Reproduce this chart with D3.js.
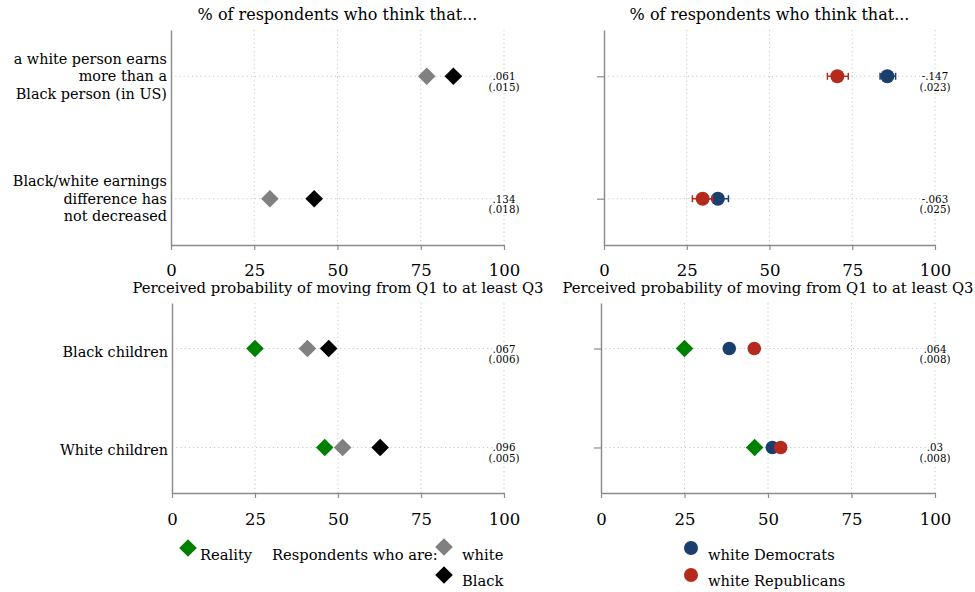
<!DOCTYPE html>
<html>
<head>
<meta charset="utf-8">
<script src="https://cdn.jsdelivr.net/npm/d3@7"></script>
<style>
  body { margin: 0; background: #fff; }
  svg text { font-family: "DejaVu Serif", serif; fill: #000; }
</style>
</head>
<body>
<svg id="chart" width="975" height="592"></svg>
<script>
// ---- data ----
const xTicks = [0, 25, 50, 75, 100];

const topTitle = "% of respondents who think that...";
const topCats = [
  ["a white person earns", "more than a", "Black person (in US)"],
  ["Black/white earnings", "difference has", "not decreased"]
];
const topWhite = [76.8, 29.7];
const topBlack = [84.8, 43.0];
const topNotesL = [[".061", "(.015)"], [".134", "(.018)"]];

const topDem = [85.6, 34.4];
const topDemLo = [83.4, 31.3];
const topDemHi = [88.1, 37.6];
const topRep = [70.5, 29.8];
const topRepLo = [67.5, 26.7];
const topRepHi = [73.8, 32.8];
const topNotesR = [["-.147", "(.023)"], ["-.063", "(.025)"]];

const botTitle = "Perceived probability of moving from Q1 to at least Q3";
const botCats = [["Black children"], ["White children"]];
const botReality = [25.0, 46.0];
const botWhite = [40.8, 51.4];
const botBlack = [47.2, 62.7];
const botNotesL = [[".067", "(.006)"], [".096", "(.005)"]];

const botDem = [38.4, 51.3];
const botDemLo = [37.7, 50.6];
const botDemHi = [39.1, 52.0];
const botRep = [45.9, 53.8];
const botRepLo = [45.2, 52.6];
const botRepHi = [46.6, 55.0];
const botNotesR = [[".064", "(.008)"], [".03", "(.008)"]];

const colors = { green: "#008000", gray: "#808080", black: "#000000", dem: "#1a3f6c", rep: "#b52a1c" };

const svg = d3.select("#chart");

// diamond path centred on (cx, cy)
const diamond = (cx, cy, r) => `M${cx},${cy - r}L${cx + r},${cy}L${cx},${cy + r}L${cx - r},${cy}Z`;

function drawPanel(o) {
  const g = svg.append("g");
  const x = d3.scaleLinear().domain([0, 100]).range([o.x0, o.x1]);
  const y = d3.scalePoint().domain(d3.range(o.cats.length)).range([o.y0, o.y1]).padding(o.pad);

  // dotted grid
  g.selectAll(".vgrid").data(xTicks.slice(1)).join("line")
    .attr("x1", d => x(d)).attr("x2", d => x(d))
    .attr("y1", o.y0).attr("y2", o.y1)
    .attr("stroke", "#c8c8c8").attr("stroke-width", 1).attr("stroke-dasharray", "1.2,3");
  g.selectAll(".hgrid").data(d3.range(o.cats.length)).join("line")
    .attr("x1", o.x0).attr("x2", x(100))
    .attr("y1", d => y(d)).attr("y2", d => y(d))
    .attr("stroke", "#c8c8c8").attr("stroke-width", 1).attr("stroke-dasharray", "1.2,3");

  // x axis
  const ax = g.append("g").attr("transform", `translate(0,${o.y1})`)
    .call(d3.axisBottom(x).tickValues(xTicks).tickSize(5).tickSizeOuter(0));
  ax.attr("font-family", null);
  ax.select(".domain").attr("stroke", "#8c8c8c").attr("stroke-width", 1.5);
  ax.selectAll(".tick line").attr("stroke", "#8c8c8c").attr("stroke-width", 1.2);
  ax.selectAll(".tick text").attr("dy", null).attr("y", o.tickY)
    .style("font-size", "16.5px").attr("fill", "#000");

  // y axis
  const ay = g.append("g").attr("transform", `translate(${o.x0},0)`)
    .call(d3.axisLeft(y).tickSize(o.labels ? 0 : 7).tickSizeOuter(0).tickFormat(""));
  ay.select(".domain").attr("stroke", "#8c8c8c").attr("stroke-width", 1.5);
  ay.selectAll(".tick line").attr("stroke", "#8c8c8c").attr("stroke-width", 1.2);

  if (o.labels) {
    o.cats.forEach((lines, i) => {
      const t = g.append("text").attr("text-anchor", "end").style("font-size", "14.4px");
      lines.forEach((s, j) => {
        t.append("tspan").attr("x", o.x0 - 4)
          .attr("y", y(i) + (j - (lines.length - 1) / 2) * 17.5 + o.labelDy)
          .text(s);
      });
    });
  }

  // title
  g.append("text").attr("x", (o.x0 + o.x1) / 2).attr("y", o.titleY)
    .attr("text-anchor", "middle").style("font-size", o.titleSize).text(o.title);

  // notes at right edge
  o.notes.forEach((n, i) => {
    g.selectAll(null).data(n).join("text")
      .attr("x", x(100)).attr("y", (d, j) => y(i) + 4 + j * 10.5)
      .attr("text-anchor", "middle").style("font-size", "10.3px")
      .attr("stroke", "#fff").attr("stroke-width", 3).attr("paint-order", "stroke")
      .text(d => d);
  });

  return { g, x, y };
}

function diamonds(p, vals, color) {
  p.g.selectAll(null).data(vals).join("path")
    .attr("d", (d, i) => diamond(p.x(d), p.y(i), 8.8)).attr("fill", color);
}

function dots(p, vals, lo, hi, color, r) {
  const rows = vals.map((v, i) => ({ v, lo: lo[i], hi: hi[i], i }));
  p.g.selectAll(null).data(rows).join("line")
    .attr("x1", d => p.x(d.lo)).attr("x2", d => p.x(d.hi))
    .attr("y1", d => p.y(d.i)).attr("y2", d => p.y(d.i))
    .attr("stroke", color).attr("stroke-width", 1.5);
  ["lo", "hi"].forEach(k => {
    p.g.selectAll(null).data(rows).join("line")
      .attr("x1", d => p.x(d[k])).attr("x2", d => p.x(d[k]))
      .attr("y1", d => p.y(d.i) - 3.5).attr("y2", d => p.y(d.i) + 3.5)
      .attr("stroke", color).attr("stroke-width", 1.5);
  });
  p.g.selectAll(null).data(rows).join("circle")
    .attr("cx", d => p.x(d.v)).attr("cy", d => p.y(d.i)).attr("r", r).attr("fill", color);
}

// top-left
const tl = drawPanel({ x0: 171, x1: 504, y0: 30, y1: 245, pad: 0.378, cats: topCats, labels: true,
  labelDy: 5, title: topTitle, titleSize: "16px", titleY: 20, tickY: 31, notes: topNotesL });
diamonds(tl, topWhite, colors.gray);
diamonds(tl, topBlack, colors.black);

// top-right
const tr = drawPanel({ x0: 604, x1: 935, y0: 30, y1: 245, pad: 0.378, cats: topCats, labels: false,
  title: topTitle, titleSize: "16px", titleY: 20, tickY: 31, notes: topNotesR });
dots(tr, topDem, topDemLo, topDemHi, colors.dem, 7);
dots(tr, topRep, topRepLo, topRepHi, colors.rep, 7);

// bottom-left
const bl = drawPanel({ x0: 172, x1: 504, y0: 303, y1: 493, pad: 0.46, cats: botCats, labels: true,
  labelDy: 8, title: botTitle, titleSize: "14.8px", titleY: 293, tickY: 32, notes: botNotesL });
diamonds(bl, botReality, colors.green);
diamonds(bl, botWhite, colors.gray);
diamonds(bl, botBlack, colors.black);

// bottom-right
const br = drawPanel({ x0: 601, x1: 935, y0: 303, y1: 493, pad: 0.46, cats: botCats, labels: false,
  title: botTitle, titleSize: "14.8px", titleY: 293, tickY: 32, notes: botNotesR });
diamonds(br, botReality, colors.green);
dots(br, botDem, botDemLo, botDemHi, colors.dem, 6.8);
dots(br, botRep, botRepLo, botRepHi, colors.rep, 6.8);

// legends
const leg = svg.append("g").style("font-size", "14.7px");
leg.append("path").attr("d", diamond(188, 548, 8.8)).attr("fill", colors.green);
leg.append("text").attr("x", 200).attr("y", 560).text("Reality");
leg.append("text").attr("x", 272).attr("y", 560).text("Respondents who are:");
leg.append("path").attr("d", diamond(444, 547, 8.8)).attr("fill", colors.gray);
leg.append("text").attr("x", 462).attr("y", 560).text("white");
leg.append("path").attr("d", diamond(444, 575, 8.8)).attr("fill", colors.black);
leg.append("text").attr("x", 462).attr("y", 586).text("Black");

leg.append("circle").attr("cx", 691).attr("cy", 548).attr("r", 7).attr("fill", colors.dem);
leg.append("text").attr("x", 708).attr("y", 560).text("white Democrats");
leg.append("circle").attr("cx", 691).attr("cy", 575).attr("r", 7).attr("fill", colors.rep);
leg.append("text").attr("x", 708).attr("y", 586).text("white Republicans");
</script>
</body>
</html>
